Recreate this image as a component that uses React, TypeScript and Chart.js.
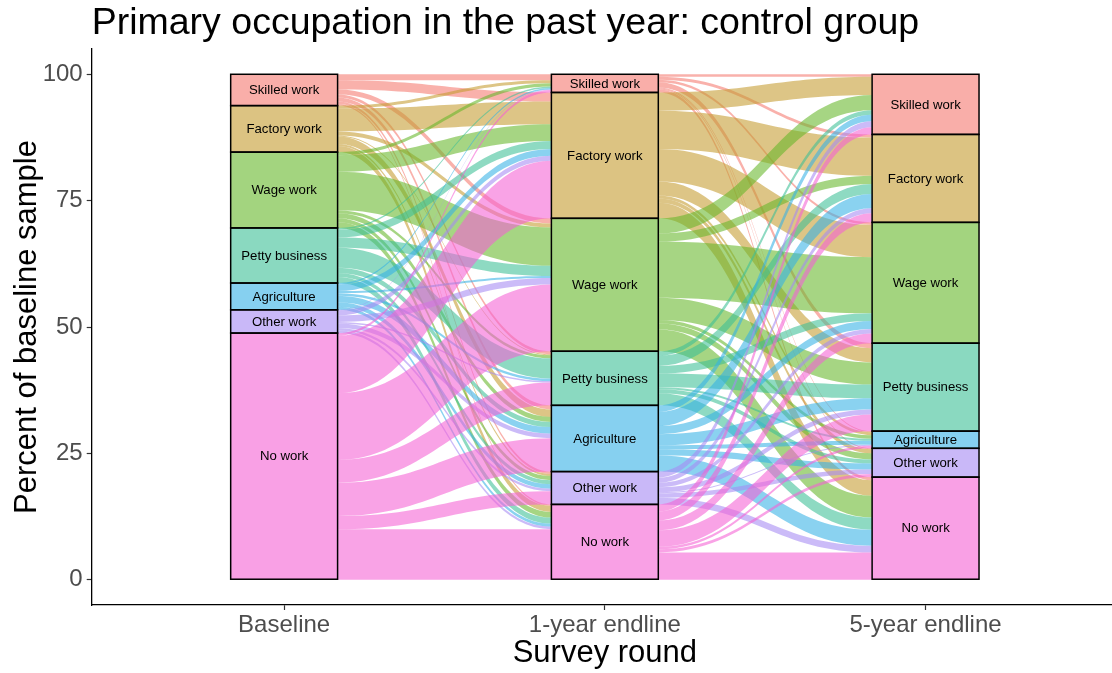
import React, { useEffect, useRef } from 'react';
import { Chart, registerables } from 'chart.js';

Chart.register(...registerables);

const chartTitle = 'Primary occupation in the past year: control group';
const rounds = ['Baseline', '1-year endline', '5-year endline'];
const occupations = [
  'Skilled work',
  'Factory work',
  'Wage work',
  'Petty business',
  'Agriculture',
  'Other work',
  'No work',
];
const occupationColors = ['#F5786F', '#C59B2F', '#66B72A', '#3CC096', '#35B1E6', '#A589F3', '#F561D4'];

// stratum shares (percent of baseline sample), top to bottom
const baselineShares = [6.2, 9.2, 15.0, 10.9, 5.3, 4.6, 48.8];
const oneYearShares = [3.6, 24.9, 26.3, 10.7, 13.1, 6.5, 14.9];
const fiveYearShares = [11.9, 17.4, 23.9, 17.4, 3.4, 5.7, 20.3];

// transitions: rows = origin occupation, columns = destination occupation
const flowsBaselineToOneYear = [
  [1.2, 1.8, 1.0, 0.6, 0.8, 0.5, 0.3],
  [0.6, 4.5, 0.8, 0.2, 1.5, 0.4, 1.2],
  [0.6, 3.3, 7.6, 0.6, 1.0, 0.8, 1.1],
  [0.3, 1.6, 2.0, 4.0, 1.0, 0.8, 1.2],
  [0.3, 1.3, 0.4, 0.5, 1.3, 0.9, 0.6],
  [0.1, 1.0, 1.3, 0.3, 0.9, 0.5, 0.5],
  [0.5, 11.4, 13.2, 4.5, 6.6, 2.6, 10.0],
];
const flowsOneYearToFiveYear = [
  [0.5, 0.6, 0.5, 1.0, 0.2, 0.2, 0.6],
  [3.6, 7.6, 6.4, 2.8, 0.6, 0.8, 3.1],
  [3.0, 1.6, 11.1, 4.4, 0.7, 1.2, 4.3],
  [0.9, 2.0, 1.5, 2.7, 0.4, 0.8, 2.4],
  [1.3, 2.8, 1.6, 2.2, 0.8, 1.2, 3.2],
  [1.2, 1.0, 0.9, 1.0, 0.2, 0.9, 1.3],
  [1.4, 1.8, 1.9, 3.3, 0.5, 0.6, 5.4],
];

const yTicks = [0, 25, 50, 75, 100];

const FONT = "'Liberation Sans', Arial, Helvetica, sans-serif";
const FILL_ALPHA = 0.6;
const FLOW_ALPHA = 0.58;

function rgba(hex: string, a: number) {
  const n = parseInt(hex.slice(1), 16);
  return `rgba(${(n >> 16) & 255},${(n >> 8) & 255},${n & 255},${a})`;
}

function stratumTops(shares: number[]) {
  const tops: number[] = [];
  let t = shares.reduce((s, v) => s + v, 0);
  for (const v of shares) {
    tops.push(t);
    t -= v;
  }
  return tops;
}

const flowPlugin = {
  id: 'alluvialFlows',
  beforeDatasetsDraw(chart: any) {
    const { ctx } = chart;
    const y = chart.scales.y;
    const shares = [baselineShares, oneYearShares, fiveYearShares];
    const matrices = [flowsBaselineToOneYear, flowsOneYearToFiveYear];
    const meta = chart.getDatasetMeta(0);
    ctx.save();
    for (let k = 0; k < matrices.length; k++) {
      const left = meta.data[k];
      const right = meta.data[k + 1];
      if (!left || !right) continue;
      const x0 = left.x + left.width / 2;
      const x1 = right.x - right.width / 2;
      const w = x1 - x0;
      const c0 = x0 + w * 0.45;
      const c1 = x1 - w * 0.45;
      const outOff = stratumTops(shares[k]);
      const inOff = stratumTops(shares[k + 1]);
      const M = matrices[k];
      for (let i = 0; i < M.length; i++) {
        for (let j = 0; j < M[i].length; j++) {
          const f = M[i][j];
          if (f <= 0) continue;
          const a0 = y.getPixelForValue(outOff[i]);
          const a1 = y.getPixelForValue(outOff[i] - f);
          const b0 = y.getPixelForValue(inOff[j]);
          const b1 = y.getPixelForValue(inOff[j] - f);
          outOff[i] -= f;
          inOff[j] -= f;
          ctx.beginPath();
          ctx.moveTo(x0, a0);
          ctx.bezierCurveTo(c0, a0, c1, b0, x1, b0);
          ctx.lineTo(x1, b1);
          ctx.bezierCurveTo(c1, b1, c0, a1, x0, a1);
          ctx.closePath();
          ctx.fillStyle = rgba(occupationColors[i], FLOW_ALPHA);
          ctx.fill();
        }
      }
    }
    ctx.restore();
  },
};

const stratumOutlinePlugin = {
  id: 'stratumOutlines',
  afterDatasetsDraw(chart: any) {
    const { ctx } = chart;
    ctx.save();
    ctx.strokeStyle = '#000000';
    ctx.lineWidth = 1.5;
    chart.data.datasets.forEach((_: any, di: number) => {
      const meta = chart.getDatasetMeta(di);
      meta.data.forEach((el: any) => {
        const top = Math.min(el.y, el.base);
        const h = Math.abs(el.base - el.y);
        ctx.strokeRect(el.x - el.width / 2, top, el.width, h);
      });
    });
    ctx.font = `13.2px ${FONT}`;
    ctx.fillStyle = '#000000';
    ctx.textAlign = 'center';
    ctx.textBaseline = 'middle';
    chart.data.datasets.forEach((ds: any, di: number) => {
      const meta = chart.getDatasetMeta(di);
      meta.data.forEach((el: any) => {
        ctx.fillText(ds.label, el.x, (el.y + el.base) / 2 + 0.6);
      });
    });
    ctx.restore();
  },
};

export default function App() {
  const ref = useRef<HTMLCanvasElement>(null);

  useEffect(() => {
    const canvas = ref.current;
    if (!canvas) return;
    Chart.defaults.font.family = FONT;
    const allShares = [baselineShares, oneYearShares, fiveYearShares];
    const order = occupations.map((_, i) => i).reverse();
    const datasets = order.map((i) => ({
      label: occupations[i],
      data: allShares.map((s, r) => ({ x: r + 1, y: s[i] })),
      backgroundColor: rgba(occupationColors[i], FILL_ALPHA),
      borderWidth: 0,
      categoryPercentage: 1,
      barPercentage: 1 / 3,
    }));

    const chart = new Chart(canvas, {
      type: 'bar',
      data: { datasets } as any,
      options: {
        animation: false,
        responsive: true,
        maintainAspectRatio: false,
        layout: { padding: { left: 0, right: 2, top: 0, bottom: 0 } },
        plugins: {
          legend: { display: false },
          tooltip: { enabled: false },
          title: {
            display: true,
            text: chartTitle,
            align: 'start',
            fullSize: false,
            color: '#000000',
            font: { size: 37.5, weight: 'normal', lineHeight: 1.2 },
            padding: { top: 1, bottom: 3 },
          },
        },
        scales: {
          x: {
            type: 'linear',
            stacked: true,
            offset: false,
            min: 0.4,
            max: 3.6,
            afterBuildTicks: (s: any) => {
              s.ticks = rounds.map((_, i) => ({ value: i + 1 }));
            },
            afterFit: (s: any) => {
              s.height = 68;
            },
            ticks: {
              callback: (v: any) => rounds[Math.round(v) - 1],
              color: '#4D4D4D',
              font: { size: 24 },
              padding: 1,
              autoSkip: false,
              maxRotation: 0,
            },
            grid: {
              display: true,
              offset: false,
              drawOnChartArea: false,
              drawTicks: true,
              tickLength: 5,
              tickColor: '#333333',
              tickWidth: 1.2,
            },
            border: { display: true, color: '#000000', width: 1.3 },
            title: {
              display: true,
              text: 'Survey round',
              color: '#000000',
              font: { size: 31, lineHeight: 1 },
              padding: { top: 0, bottom: 4.5 },
            },
          },
          y: {
            stacked: true,
            min: -5,
            max: 105,
            afterBuildTicks: (s: any) => {
              s.ticks = yTicks.map((v) => ({ value: v }));
            },
            afterFit: (s: any) => {
              s.width = 91.7;
            },
            ticks: {
              color: '#4D4D4D',
              font: { size: 24 },
              padding: 4,
            },
            grid: {
              display: true,
              drawOnChartArea: false,
              drawTicks: true,
              tickLength: 5,
              tickColor: '#333333',
              tickWidth: 1.2,
            },
            border: { display: true, color: '#000000', width: 1.3 },
            title: {
              display: true,
              text: 'Percent of baseline sample',
              color: '#000000',
              font: { size: 31, lineHeight: 1 },
              padding: { top: 12 },
            },
          },
        },
      } as any,
      plugins: [flowPlugin, stratumOutlinePlugin],
    });
    return () => chart.destroy();
  }, []);

  return (
    <div style={{ position: 'fixed', left: 0, top: 0, width: 1112, height: 673, overflow: 'hidden', background: '#fff' }}>
      <div style={{ position: 'relative', width: 1120, height: 673 }}>
        <canvas ref={ref} />
      </div>
    </div>
  );
}
